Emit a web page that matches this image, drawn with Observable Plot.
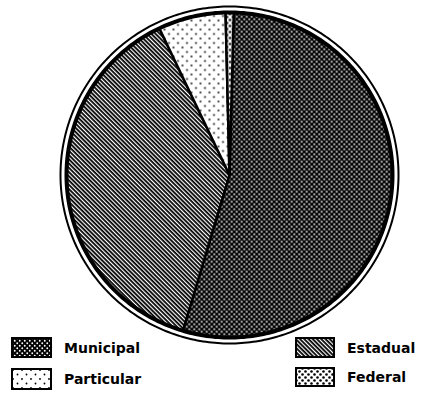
<!DOCTYPE html>
<html>
<head>
<meta charset="utf-8">
<script src="https://cdn.jsdelivr.net/npm/d3@7"></script>
<script src="https://cdn.jsdelivr.net/npm/@observablehq/plot@0.6"></script>
<style>
  html, body { margin: 0; padding: 0; background: #fff; }
  #wrap { position: relative; width: 427px; height: 393px; overflow: hidden; }
  #wrap svg.chart { position: absolute; left: 0; top: 0; }
  .item { position: absolute; display: flex; align-items: center; font: bold 14px "DejaVu Sans", sans-serif; color: #000; }
  .item svg { display: block; margin-right: 12px; }
</style>
</head>
<body>
<div id="wrap"></div>
<script>
// ---- data ----
const categories = ["Municipal", "Estadual", "Particular", "Federal"];
const shares = [54.2, 38.3, 6.7, 0.8];
const patternIds = ["pMun", "pEst", "pPar", "pFed"];

// ---- layout ----
const W = 427, H = 393;
const rotation = 1.5 * Math.PI / 180;   // pie starts just right of 12 o'clock
const pieR = 0.9645;                    // pie radius relative to the outer ring

const arcs = d3.pie().sort(null).startAngle(rotation).endAngle(rotation + 2 * Math.PI)(shares);

const slicePts = [];
arcs.forEach((a, i) => {
  const n = Math.max(2, Math.ceil((a.endAngle - a.startAngle) * 180 / Math.PI));
  slicePts.push({cat: categories[i], x: 0, y: 0});
  for (let k = 0; k <= n; k++) {
    const t = a.startAngle + (a.endAngle - a.startAngle) * k / n;
    slicePts.push({cat: categories[i], x: pieR * Math.sin(t), y: pieR * Math.cos(t)});
  }
  slicePts.push({cat: categories[i], x: 0, y: 0});
});

function ring(r) {
  return d3.range(0, 361).map(d => {
    const t = d * Math.PI / 180;
    return {x: r * Math.sin(t), y: r * Math.cos(t)};
  });
}

const chart = Plot.plot({
  width: W, height: H,
  marginLeft: 60, marginRight: 29, marginTop: 6, marginBottom: 50,
  x: {domain: [-1, 1], axis: null},
  y: {domain: [-1, 1], axis: null},
  color: {type: "ordinal", domain: categories, range: patternIds.map(p => `url(#${p})`)},
  style: {background: "#fff"},
  marks: [
    Plot.line(slicePts, {x: "x", y: "y", z: "cat", fill: "cat", stroke: "#000", strokeWidth: 2.5, strokeLinejoin: "round"}),
    Plot.line(ring(pieR), {x: "x", y: "y", stroke: "#000", strokeWidth: 4}),
    Plot.line(ring(1), {x: "x", y: "y", stroke: "#000", strokeWidth: 2})
  ]
});
chart.classList.add("chart");

d3.select(chart).insert("defs", ":first-child").html(`
  <pattern id="pMun" patternUnits="userSpaceOnUse" width="5" height="5">
    <rect width="5" height="5" fill="#000"/>
    <circle cx="1.25" cy="1.25" r="0.95" fill="#fff"/>
    <circle cx="3.75" cy="3.75" r="0.95" fill="#fff"/>
  </pattern>
  <pattern id="pEst" patternUnits="userSpaceOnUse" width="3" height="3" patternTransform="rotate(45)">
    <rect width="3" height="3" fill="#fff"/>
    <rect width="3" height="1.8" fill="#000"/>
  </pattern>
  <pattern id="pPar" patternUnits="userSpaceOnUse" width="9" height="9">
    <rect width="9" height="9" fill="#fff"/>
    <circle cx="2" cy="2" r="0.9" fill="#000"/>
    <circle cx="6.5" cy="6.5" r="0.9" fill="#000"/>
  </pattern>
  <pattern id="pFed" patternUnits="userSpaceOnUse" width="6" height="6">
    <rect width="6" height="6" fill="#fff"/>
    <circle cx="1.5" cy="1.5" r="1.3" fill="#000"/>
    <circle cx="4.5" cy="4.5" r="1.3" fill="#000"/>
  </pattern>
`);

const wrap = document.getElementById("wrap");
wrap.appendChild(chart);

// ---- legend (2 x 2), swatches filled through the chart's color scale ----
const color = chart.scale("color");
const legendPos = [
  {left: 11, top: 337, w: 41, h: 21},   // Municipal
  {left: 295, top: 337, w: 40, h: 21},  // Estadual
  {left: 11, top: 368, w: 41, h: 22},   // Particular
  {left: 295, top: 367, w: 40, h: 20}   // Federal
];
categories.forEach((c, i) => {
  const p = legendPos[i];
  const div = document.createElement("div");
  div.className = "item";
  div.style.left = p.left + "px";
  div.style.top = p.top + "px";
  div.style.height = p.h + "px";
  div.innerHTML = `<svg width="${p.w}" height="${p.h}"><rect x="1" y="1" width="${p.w - 2}" height="${p.h - 2}" fill="${color.apply(c)}" stroke="#000" stroke-width="2"/></svg><span>${c}</span>`;
  wrap.appendChild(div);
});
</script>
</body>
</html>
